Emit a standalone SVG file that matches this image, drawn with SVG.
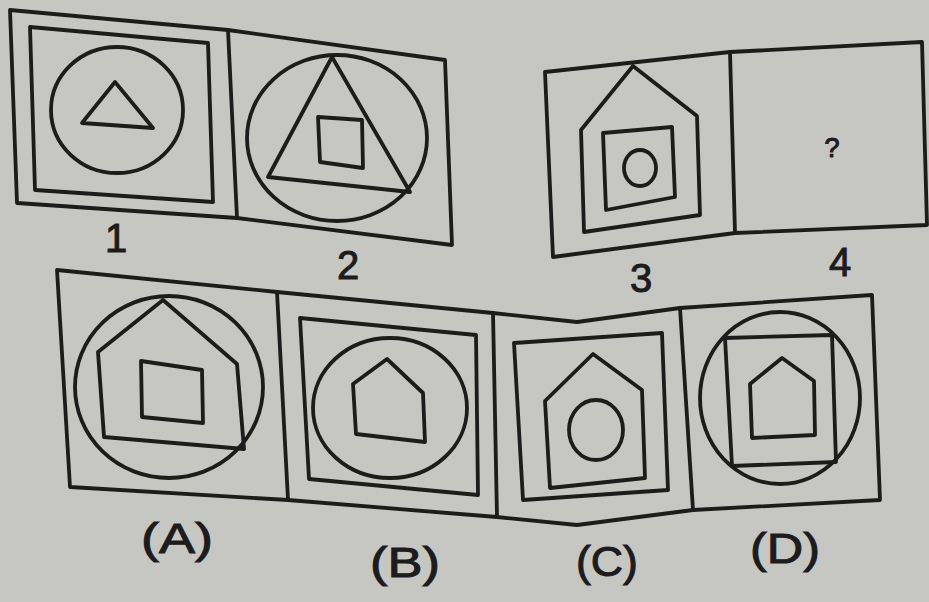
<svg xmlns="http://www.w3.org/2000/svg" width="929" height="602" viewBox="0 0 929 602">
<style>
.s{fill:none;stroke:#1c1c1c;stroke-width:3.8;stroke-linejoin:round;stroke-linecap:round}
.t{font-family:"Liberation Sans",Arial,sans-serif;fill:#1c1c1c;text-anchor:middle;stroke:#1c1c1c;stroke-width:1}
</style>
<rect width="929" height="602" fill="#c6c6c3"/>
<g id="row1">
<polygon class="s" points="10,10 228,30 445,60 452,245 237,218 17,203" fill="#cdcdca"/>
<line class="s" x1="228" y1="30" x2="237" y2="218"/>
</g>
<g id="fig1">
<polygon class="s" points="30,27 208,43 213,202 35,190"/>
<ellipse class="s" cx="117" cy="110" rx="66" ry="63"/>
<polygon class="s" points="115,82 82,123 153,128"/>
<text class="t" x="116" y="252" font-size="40">1</text>
</g>
<g id="fig2">
<ellipse class="s" cx="337" cy="138" rx="90" ry="83"/>
<polygon class="s" points="332,57 268,177 410,192"/>
<polygon class="s" points="318,117 362,120 363,168 320,162"/>
<text class="t" x="348" y="279" font-size="40">2</text>
</g>
<g id="row2">
<polygon class="s" points="545,72 730,52 922,42 927,225 735,233 553,257" fill="#cdcdca"/>
<line class="s" x1="730" y1="52" x2="735" y2="233"/>
</g>
<g id="fig3">
<polygon class="s" points="633,66 581,130 584,232 700,215 697,116"/>
<polygon class="s" points="603,133 672,127 675,197 606,210"/>
<ellipse class="s" cx="640" cy="168" rx="16" ry="18"/>
<text class="t" x="641" y="292" font-size="40">3</text>
</g>
<g id="fig4">
<text class="t" x="832" y="157" font-size="27">?</text>
<text class="t" x="840" y="276" font-size="40">4</text>
</g>
<g id="options">
<polygon class="s" points="57,270 277,292 493,313 577,322 680,308 872,295 880,500 693,510 577,525 497,517 288,500 70,487" fill="#cdcdca"/>
<line class="s" x1="277" y1="292" x2="288" y2="500"/>
<line class="s" x1="493" y1="313" x2="497" y2="517"/>
<line class="s" x1="680" y1="308" x2="693" y2="510"/>
</g>
<g id="optA">
<ellipse class="s" cx="169" cy="387" rx="94" ry="91"/>
<polygon class="s" points="163,300 98,352 104,437 244,449 237,364"/>
<polygon class="s" points="141,361 202,370 203,423 142,417"/>
<text class="t" x="177" y="553" font-size="42" textLength="72" lengthAdjust="spacingAndGlyphs">(A)</text>
</g>
<g id="optB">
<polygon class="s" points="300,318 476,335 478,495 309,479"/>
<ellipse class="s" cx="390" cy="408" rx="77" ry="70"/>
<polygon class="s" points="387,359 353,384 356,434 425,442 423,393"/>
<text class="t" x="405" y="577" font-size="42" textLength="70" lengthAdjust="spacingAndGlyphs">(B)</text>
</g>
<g id="optC">
<polygon class="s" points="514,343 662,333 668,490 523,500"/>
<polygon class="s" points="593,354 545,401 550,488 645,478 642,390"/>
<ellipse class="s" cx="596" cy="430" rx="27" ry="30"/>
<text class="t" x="607" y="576" font-size="42" textLength="62" lengthAdjust="spacingAndGlyphs">(C)</text>
</g>
<g id="optD">
<ellipse class="s" cx="780" cy="398" rx="80" ry="86"/>
<polygon class="s" points="725,338 832,335 836,462 732,466"/>
<polygon class="s" points="782,358 750,384 752,438 815,435 814,381"/>
<text class="t" x="785" y="563" font-size="42" textLength="70" lengthAdjust="spacingAndGlyphs">(D)</text>
</g>
</svg>
